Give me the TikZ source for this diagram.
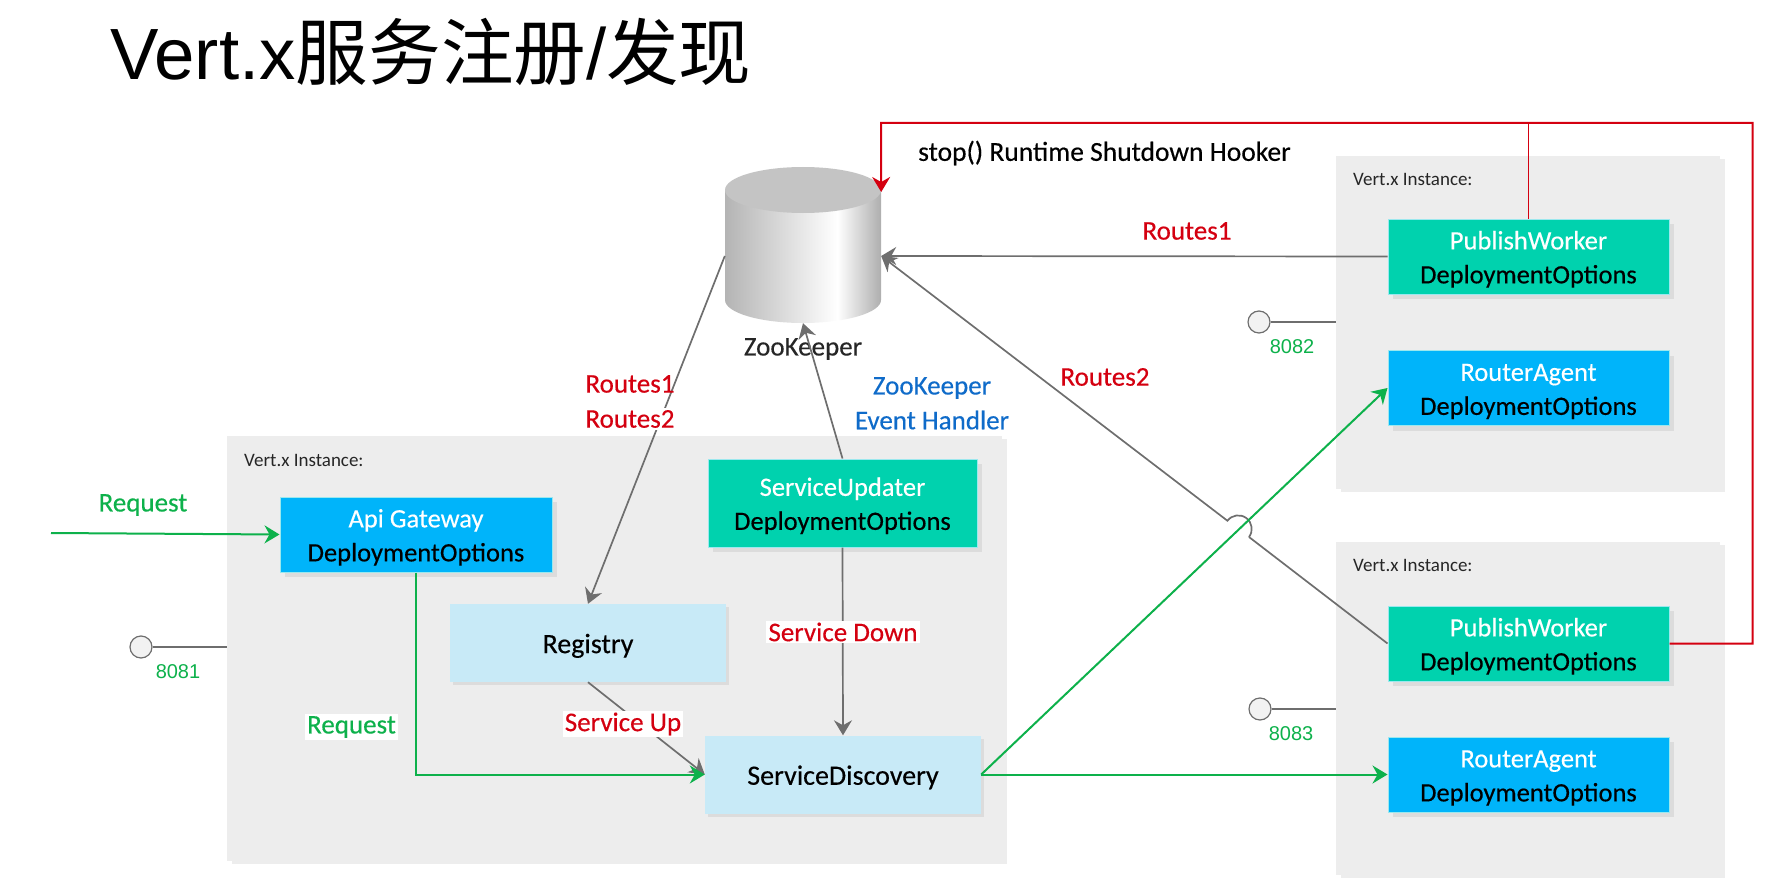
\documentclass[tikz,border=0pt]{standalone}
\usepackage{fontspec}
\setmainfont{Carlito}
\newfontfamily\sketchfont[FakeBold=0.35]{Carlito}
\newfontfamily\titlefont{Liberation Sans}
\newfontfamily\cjkfont{Noto Sans CJK SC}
\usetikzlibrary{arrows.meta,shadows}
\definecolor{instgray}{HTML}{EDEDED}
\definecolor{shadowgray}{HTML}{DCDCDC}
\definecolor{tealbox}{HTML}{00D2AE}
\definecolor{bluebox}{HTML}{00B4FA}
\definecolor{palebox}{HTML}{C8EAF7}
\definecolor{boxedge}{HTML}{9BE8EE}
\definecolor{linegray}{HTML}{6E6E6E}
\definecolor{greenline}{HTML}{0DB14B}
\definecolor{redline}{HTML}{D40010}
\definecolor{bluetext}{HTML}{0F6BC9}
\definecolor{zkleft}{HTML}{B4B4B4}
\definecolor{zkright}{HTML}{AEAEAE}
\definecolor{zktop}{HTML}{C4C4C4}
\pgfdeclarehorizontalshading{zkshade}{100bp}{color(0bp)=(zkleft); color(25bp)=(zkleft); color(61bp)=(white); color(75bp)=(zkright); color(100bp)=(zkright)}
\newcommand{\deployed}[1]{\rule{0pt}{24pt}\textcolor{white}{#1}\\DeploymentOptions}
\begin{document}
\begin{tikzpicture}[x=1pt,y=-1pt,
    instance/.style ={fill=instgray, inner sep=0pt, drop shadow={shadow xshift=5pt, shadow yshift=-3pt, opacity=1, fill=instgray}},
    service/.style ={draw=boxedge, line width=1pt, inner sep=0pt, minimum width=281pt, minimum height=75pt, align=center,
      font=\sketchfont\fontsize{26.5}{34}\selectfont,
      drop shadow={shadow xshift=5pt, shadow yshift=-5pt, opacity=1, fill=shadowgray}},
    tealservice/.style ={service, fill=tealbox},
    blueservice/.style ={service, fill=bluebox},
    paleservice/.style ={draw=none, inner sep=0pt, fill=palebox, minimum width=276pt, minimum height=78pt,
      font=\sketchfont\fontsize{28}{34}\selectfont, execute at begin node={\rule{0pt}{25pt}},
      drop shadow={shadow xshift=3pt, shadow yshift=-3pt, opacity=1, fill=shadowgray}},
    port/.style ={circle, draw=linegray, fill=white!95!black, line width=1.2pt, minimum size=22pt, inner sep=0pt},
    portlabel/.style ={text=greenline, font=\titlefont\fontsize{20}{24}\selectfont},
    insttitle/.style ={anchor=west, inner sep=0pt, font=\fontsize{19}{22}\selectfont, text=black!85},
    redlabel/.style ={text=redline, inner sep=2pt, font=\sketchfont\fontsize{27}{30}\selectfont},
    greenlabel/.style ={text=greenline, inner sep=2pt, font=\sketchfont\fontsize{27}{30}\selectfont},
    bluelabel/.style ={text=bluetext, inner sep=2pt, font=\sketchfont\fontsize{27}{30}\selectfont},
    grayarrow/.style ={draw=linegray, line width=1.7pt, -{Stealth[length=15pt,width=18pt,inset=5pt]}},
    greenarrow/.style ={draw=greenline, line width=2pt, -{Stealth[length=15pt,width=18pt,inset=5pt]}},
    redarrow/.style ={draw=redline, line width=2pt, -{Stealth[length=15pt,width=18pt,inset=5pt]}}]
   \useasboundingbox (0,0) rectangle (1781,888);
   \node[anchor=base west, inner sep=0pt, font=\fontsize{72.6}{80}\selectfont] (title) at (110,80)
     {{\titlefont Vert.x}{\cjkfont 服务注册}{\titlefont /}{\cjkfont 发现}};
   % instance panels
   \node[instance, minimum width=775pt, minimum height=425pt] (instA) at (614.5,648.5) {};
   \node[instance, minimum width=384pt, minimum height=333pt] (instB) at (1528,322.5) {};
   \node[instance, minimum width=384pt, minimum height=333pt] (instC) at (1528,708.5) {};
   \node[insttitle] at (244,460) {Vert.x Instance:};
   \node[insttitle] at (1353,179) {Vert.x Instance:};
   \node[insttitle] at (1353,565) {Vert.x Instance:};
   % zookeeper cylinder
   \path[shading=zkshade] (725,190) -- (725,300) arc[start angle=180, end angle=360, x radius=78pt, y radius=23pt] -- (881,190) -- cycle;
   \fill[zktop] (803,190) ellipse[x radius=78pt, y radius=23pt];
   \node[minimum width=156pt, minimum height=156pt, inner sep=0pt] (zoo) at (803,245) {};
   \node[inner sep=0pt, font=\sketchfont\fontsize{27}{30}\selectfont, text=black!85] (zoolabel) at (803,349) {ZooKeeper};
   % services
   \node[blueservice, minimum width=272pt] (gateway) at (416,534.5) {\deployed{Api Gateway}};
   \node[tealservice, minimum width=269pt, minimum height=88pt] (updater) at (842.5,503) {\deployed{ServiceUpdater}};
   \node[paleservice] (registry) at (588,643) {Registry};
   \node[paleservice] (discovery) at (843,774.5) {ServiceDiscovery};
   \node[tealservice] (workerB) at (1528.5,256.5) {\deployed{PublishWorker}};
   \node[blueservice] (agentB) at (1528.5,388) {\deployed{RouterAgent}};
   \node[tealservice] (workerC) at (1528.5,643.5) {\deployed{PublishWorker}};
   \node[blueservice] (agentC) at (1528.5,774.5) {\deployed{RouterAgent}};
   % ports
   \node[port] (portA) at (141,647) {};
   \node[port] (portB) at (1259,322) {};
   \node[port] (portC) at (1260,709) {};
   \node[portlabel] at (178,672) {8081};
   \node[portlabel] at (1292,347) {8082};
   \node[portlabel] at (1291,734) {8083};
   \draw[linegray, line width=1.5pt] (portA) to (portA -| instA.west);
   \draw[linegray, line width=1.5pt] (portB) to (portB -| instB.west);
   \draw[linegray, line width=1.5pt] (portC) to (portC -| instC.west);
   % free ends
   \coordinate (reqstart) at (51,533);
   \coordinate (stopcorner) at (881,123);
   \coordinate (stopfar) at (1752.5,123);
   \coordinate (jumpin) at (1249,537);
   % gray connectors
   \draw[grayarrow] ([yshift=-11pt]zoo.west) to (registry.north);
   \draw[grayarrow] (updater.north) to (zoo.south);
   \draw[grayarrow] (updater.south) to (discovery.north);
   \draw[grayarrow] (registry.south) to (discovery.west);
   \draw[grayarrow] (workerB.west) to ([yshift=-11pt]zoo.east);
   \draw[linegray, line width=1.7pt] (workerC.west) to (jumpin);
   \draw[grayarrow] (jumpin) arc[start angle=-37, end angle=143, radius=13.5pt] to ([yshift=-11pt]zoo.east);
   % green connectors
   \draw[greenarrow] (reqstart) to (gateway.west);
   \draw[greenarrow] (gateway.south) |- (discovery.west);
   \draw[greenarrow] (discovery.east) to (agentB.west);
   \draw[greenarrow] (discovery.east) to (agentC.west);
   % red connectors
   \draw[redarrow] (workerC.east) -| (stopfar) to (stopcorner) to ([yshift=53pt]zoo.east);
   \draw[redline, line width=1.2pt] (workerB.north) to (workerB.north |- stopfar);
   % labels
   \node[inner sep=0pt, font=\sketchfont\fontsize{27.5}{30}\selectfont, anchor=west] at (918,153) {stop() Runtime Shutdown Hooker};
   \node[redlabel] at (1187,231) {Routes1};
   \node[redlabel] at (1105,377) {Routes2};
   \node[redlabel] at (630,384) {Routes1};
   \node[redlabel, fill=white] at (630,419) {Routes2};
   \node[bluelabel] at (932,388) {ZooKeeper};
   \node[bluelabel] at (932,420) {Event Handler};
   \node[greenlabel] at (143,505) {Request};
   \node[greenlabel, fill=white] at (351.5,727) {Request};
   \node[redlabel, fill=white] at (843,632) {Service Down};
   \node[redlabel, fill=white] at (623,724) {Service Up};
 \end{tikzpicture}
\end{document}
